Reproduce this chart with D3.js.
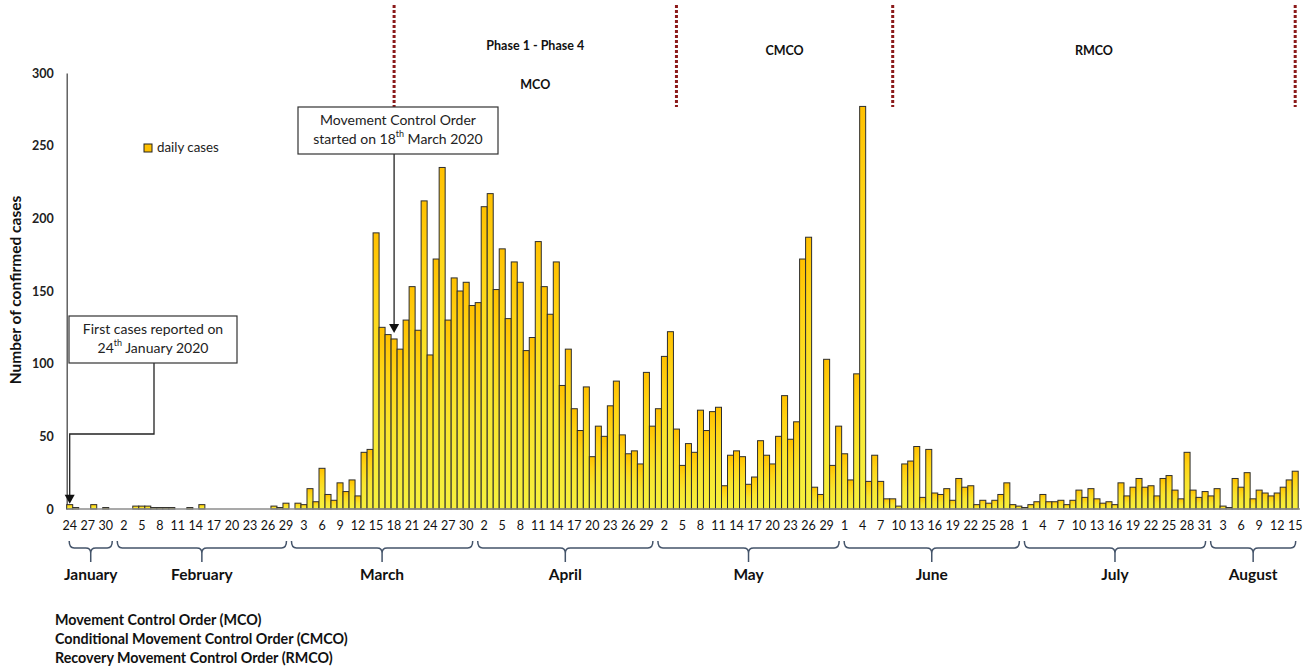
<!DOCTYPE html>
<html>
<head>
<meta charset="utf-8">
<script src="https://cdn.jsdelivr.net/npm/d3@7"></script>
<style>
  body { margin: 0; background: #fff; }
  svg { display: block; font-family: Lato, "Open Sans", sans-serif; }
</style>
</head>
<body>
<svg id="chart" width="1311" height="671"></svg>
<script>
// daily confirmed cases, 24 Jan - 15 Aug 2020
const casesJan = [3, 1, 0, 0, 3, 0, 1, 0];                     // 24 - 31
const casesFeb = [0, 0, 0, 2, 2, 2, 1, 1, 1, 1, 0, 0, 1, 0, 3,
                  0, 0, 0, 0, 0, 0, 0, 0, 0, 0, 0, 2, 1, 4];
const casesMar = [0, 4, 3, 14, 5, 28, 10, 6, 18, 12, 20, 9, 39, 41, 190,
                  125, 120, 117, 110, 130, 153, 123, 212, 106, 172, 235, 130, 159, 150, 156, 140];
const casesApr = [142, 208, 217, 151, 179, 131, 170, 156, 109, 118, 184, 153, 134, 170, 85,
                  110, 69, 54, 84, 36, 57, 50, 71, 88, 51, 38, 40, 31, 94, 57];
const casesMay = [69, 105, 122, 55, 30, 45, 39, 68, 54, 67, 70, 16, 37, 40, 36,
                  17, 22, 47, 37, 31, 50, 78, 48, 60, 172, 187, 15, 10, 103, 30, 57];
const casesJun = [38, 20, 93, 277, 19, 37, 19, 7, 7, 2, 31, 33, 43, 8, 41,
                  11, 10, 14, 6, 21, 15, 16, 3, 6, 4, 6, 10, 18, 3, 2];
const casesJul = [1, 3, 5, 10, 5, 5, 6, 3, 6, 13, 8, 14, 7, 4, 5,
                  3, 18, 9, 15, 21, 15, 16, 9, 21, 23, 13, 7, 39, 13, 8, 12];
const casesAug = [9, 14, 2, 1, 21, 15, 25, 7, 13, 11, 9, 11, 15, 20, 26];   // 1 - 15

const monthNames = ["January", "February", "March", "April", "May", "June", "July", "August"];
const yTicks = [0, 50, 100, 150, 200, 250, 300];

const phaseDates = ["2020-03-18", "2020-05-04", "2020-06-09", "2020-08-15"];
const phaseLabels = [["Phase 1 - Phase 4", "MCO"], ["CMCO"], ["RMCO"]];

const footnotes = [
  "Movement Control Order (MCO)",
  "Conditional Movement Control Order (CMCO)",
  "Recovery Movement Control Order (RMCO)"
];

// ---------------------------------------------------------------
const parse = d3.timeParse("%Y-%m-%d");
const fmt = d3.timeFormat("%Y-%m-%d");
const days = d3.timeDay.range(parse("2020-01-24"), parse("2020-08-16"));
const cases = [].concat(casesJan, casesFeb, casesMar, casesApr, casesMay, casesJun, casesJul, casesAug);
const data = days.map((d, i) => ({ i, date: d, value: cases[i] }));
const idxOf = s => days.findIndex(d => fmt(d) === s);

const svg = d3.select("#chart");

const x = d3.scaleBand()
  .domain(d3.range(days.length))
  .range([66.7, 1298.2])
  .padding(0);
const bw = x.bandwidth();
const xc = i => x(i) + bw / 2;

const y = d3.scaleLinear().domain([0, 300]).range([509, 73]);

// gradient for the bars: gold on top, bright yellow below
const defs = svg.append("defs");
const grad = defs.append("linearGradient").attr("id", "barGrad")
  .attr("x1", 0).attr("y1", 0).attr("x2", 0).attr("y2", 1);
grad.append("stop").attr("offset", "0%").attr("stop-color", "#ffc000");
grad.append("stop").attr("offset", "22%").attr("stop-color", "#ffd414");
grad.append("stop").attr("offset", "55%").attr("stop-color", "#f9e52e");
grad.append("stop").attr("offset", "100%").attr("stop-color", "#f6f03e");

// y axis
const yAxis = svg.append("g")
  .attr("transform", "translate(66.7,0)")
  .call(d3.axisLeft(y).tickValues(yTicks).tickSize(0).tickPadding(13));
yAxis.select(".domain").attr("stroke", "#4a4a4a").attr("stroke-width", 1.3);
yAxis.selectAll("text")
  .attr("font-family", "Lato, sans-serif")
  .attr("font-size", 12.5).attr("font-weight", "bold").attr("fill", "#222");

svg.append("text")
  .attr("transform", "translate(17,290) rotate(-90)")
  .attr("text-anchor", "middle").attr("dominant-baseline", "middle")
  .attr("font-size", 15.5).attr("font-weight", "bold").attr("fill", "#111")
  .text("Number of confirmed cases");

// bars
svg.append("g").selectAll("rect")
  .data(data.filter(d => d.value > 0))
  .join("rect")
    .attr("x", d => x(d.i))
    .attr("width", bw)
    .attr("y", d => y(d.value))
    .attr("height", d => y(0) - y(d.value))
    .attr("fill", "url(#barGrad)")
    .attr("stroke", "#2e2e2e")
    .attr("stroke-width", 1);

// baseline
svg.append("line")
  .attr("x1", 66.7).attr("x2", 1300).attr("y1", y(0)).attr("y2", y(0))
  .attr("stroke", "#8c8c8c").attr("stroke-width", 1.6);

// x tick labels every third day
svg.append("g").selectAll("text")
  .data(data.filter(d => d.i % 3 === 0))
  .join("text")
    .attr("x", d => xc(d.i))
    .attr("y", 527)
    .attr("text-anchor", "middle").attr("dominant-baseline", "middle")
    .attr("font-size", 12.5).attr("fill", "#111")
    .text(d => d.date.getDate());

// month braces and names
const months = d3.groups(data, d => d.date.getMonth());
months.forEach(([m, arr], k) => {
  const x0 = x(arr[0].i) + 2.5;
  const x1 = x(arr[arr.length - 1].i) + bw - 2.5;
  const mid = (x0 + x1) / 2;
  const r = 5;
  svg.append("path")
    .attr("d", `M${x0},541 Q${x0},548 ${x0 + r},548 H${mid - r} Q${mid},548 ${mid},553 V562` +
               ` M${mid},553 Q${mid},548 ${mid + r},548 H${x1 - r} Q${x1},548 ${x1},541`)
    .attr("fill", "none").attr("stroke", "#44546a").attr("stroke-width", 1.5);
  svg.append("text")
    .attr("x", mid).attr("y", 576)
    .attr("text-anchor", "middle").attr("dominant-baseline", "middle")
    .attr("font-size", 15.5).attr("font-weight", "bold").attr("fill", "#111")
    .text(monthNames[k]);
});

// phase boundaries
const phaseX = phaseDates.map(s => xc(idxOf(s)));
svg.append("g").selectAll("line")
  .data(phaseX)
  .join("line")
    .attr("x1", d => d).attr("x2", d => d)
    .attr("y1", 5).attr("y2", 107)
    .attr("stroke", "#8b1a1a").attr("stroke-width", 3)
    .attr("stroke-dasharray", "3,2");

const phaseY = [[47, 86], [52], [52]];
phaseLabels.forEach((lines, k) => {
  const mx = (phaseX[k] + phaseX[k + 1]) / 2;
  lines.forEach((t, j) => {
    svg.append("text")
      .attr("x", mx).attr("y", phaseY[k][j])
      .attr("text-anchor", "middle").attr("dominant-baseline", "middle")
      .attr("font-size", 12.5).attr("font-weight", "bold").attr("fill", "#111")
      .text(t);
  });
});

// annotation: MCO start
const iMar18 = idxOf("2020-03-18");
const ax = xc(iMar18);
const tipY = y(cases[iMar18]) - 6;
svg.append("line")
  .attr("x1", ax).attr("x2", ax).attr("y1", 154).attr("y2", tipY - 8)
  .attr("stroke", "#222").attr("stroke-width", 1.3);
svg.append("path")
  .attr("d", `M${ax - 5},${tipY - 9} L${ax + 5},${tipY - 9} L${ax},${tipY} Z`)
  .attr("fill", "#111");
svg.append("rect")
  .attr("x", 298).attr("y", 107).attr("width", 200).attr("height", 47)
  .attr("fill", "#fff").attr("stroke", "#333").attr("stroke-width", 1.2);
svg.append("text")
  .attr("x", 398).attr("y", 121)
  .attr("text-anchor", "middle").attr("dominant-baseline", "middle")
  .attr("font-size", 14).attr("fill", "#222")
  .text("Movement Control Order");
const t2 = svg.append("text")
  .attr("x", 398).attr("y", 140)
  .attr("text-anchor", "middle").attr("dominant-baseline", "middle")
  .attr("font-size", 14).attr("fill", "#222");
t2.append("tspan").text("started on 18");
t2.append("tspan").attr("font-size", 9).attr("dy", -5).text("th");
t2.append("tspan").attr("dy", 5).text(" March 2020");

// annotation: first cases
const fx = xc(0);
const fTip = y(cases[0]) - 1;
svg.append("path")
  .attr("d", `M154,363 V434 H${fx} V${fTip - 8}`)
  .attr("fill", "none").attr("stroke", "#222").attr("stroke-width", 1.3);
svg.append("path")
  .attr("d", `M${fx - 5},${fTip - 9} L${fx + 5},${fTip - 9} L${fx},${fTip} Z`)
  .attr("fill", "#111");
svg.append("rect")
  .attr("x", 69).attr("y", 316).attr("width", 168).attr("height", 47)
  .attr("fill", "#fff").attr("stroke", "#333").attr("stroke-width", 1.2);
svg.append("text")
  .attr("x", 153).attr("y", 330)
  .attr("text-anchor", "middle").attr("dominant-baseline", "middle")
  .attr("font-size", 14).attr("fill", "#222")
  .text("First cases reported on");
const t3 = svg.append("text")
  .attr("x", 153).attr("y", 349)
  .attr("text-anchor", "middle").attr("dominant-baseline", "middle")
  .attr("font-size", 14).attr("fill", "#222");
t3.append("tspan").text("24");
t3.append("tspan").attr("font-size", 9).attr("dy", -5).text("th");
t3.append("tspan").attr("dy", 5).text("  January 2020");

// legend
svg.append("rect")
  .attr("x", 144).attr("y", 144).attr("width", 8).attr("height", 8)
  .attr("fill", "#ffc000").attr("stroke", "#222").attr("stroke-width", 1);
svg.append("text")
  .attr("x", 157).attr("y", 148.5)
  .attr("dominant-baseline", "middle")
  .attr("font-size", 13.3).attr("fill", "#222")
  .text("daily cases");

// footnotes
svg.append("g").selectAll("text")
  .data(footnotes)
  .join("text")
    .attr("x", 55)
    .attr("y", (d, i) => 621 + i * 19)
    .attr("dominant-baseline", "middle")
    .attr("font-size", 14.3).attr("font-weight", "bold").attr("fill", "#111")
    .text(d => d);
</script>
</body>
</html>
